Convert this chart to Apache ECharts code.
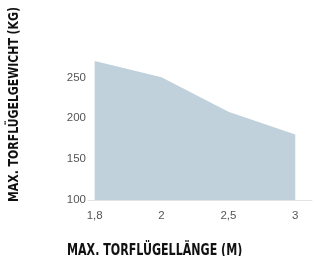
<!DOCTYPE html>
<html>
<head>
<meta charset="utf-8">
<script src="https://cdn.jsdelivr.net/npm/echarts@6/dist/echarts.min.js"></script>
<style>
	html, body { margin: 0; padding: 0; background: #fff; }
	#chart { width: 315px; height: 256px; }
</style>
</head>
<body>
<div id="chart"></div>
<script>
var laengen = ['1,8', '2', '2,5', '3']; // Torflügellänge (m)
var gewichte = [270, 250, 208, 180]; // max. Torflügelgewicht (kg)
var yTicks = [100, 150, 200, 250];

var myChart = echarts.init(document.getElementById('chart'));

// Punkte über Index, damit die Abstände gleich bleiben
var punkte = gewichte.map(function(v, i) {
	return [i, v];
});

var titelFont = '"DejaVu Sans Condensed", "Liberation Sans Narrow", sans-serif';

var option = {
	animation: false,
	grid: {
		left: 88,
		right: 0,
		top: 61,
		bottom: 56
	},
	xAxis: {
		type: 'value',
		min: -0.1,
		max: 3.25,
		interval: 0.05,
		splitLine: { show: false },
		axisTick: { show: false },
		axisLine: {
			show: true,
			lineStyle: { color: '#e3e3e3', width: 1 }
		},
		axisLabel: {
			color: '#555',
			fontSize: 11.5,
			fontFamily: 'Liberation Sans, Arial, sans-serif',
			margin: 10,
			hideOverlap: false,
			formatter: function(v) {
				var i = Math.round(v);
				if (Math.abs(v - i) > 1e-6) return '';
				return laengen[i] !== undefined ? laengen[i] : '';
			}
		}
	},
	yAxis: {
		type: 'value',
		min: yTicks[0],
		max: 270,
		interval: 50,
		splitLine: { show: false },
		axisTick: { show: false },
		axisLine: { show: false },
		axisLabel: {
			color: '#555',
			fontSize: 11.5,
			fontFamily: 'Liberation Sans, Arial, sans-serif',
			margin: 2,
			formatter: function(v) {
				return yTicks.indexOf(v) >= 0 ? String(v) : '';
			}
		}
	},
	graphic: [{
		type: 'text',
		x: 7,
		y: 202,
		rotation: Math.PI / 2,
		scaleX: 0.865,
		style: {
			text: 'MAX. TORFLÜGELGEWICHT (KG)',
			fill: '#111',
			font: 'bold 14px ' + titelFont,
			align: 'left',
			verticalAlign: 'top'
		}
	}, {
		type: 'text',
		x: 67,
		y: 243,
		scaleX: 0.77,
		style: {
			text: 'MAX. TORFLÜGELLÄNGE (M)',
			fill: '#111',
			font: 'bold 16px ' + titelFont
		}
	}],
	series: [{
		type: 'line',
		data: punkte,
		symbol: 'none',
		lineStyle: { width: 0 },
		areaStyle: { color: '#c0d1dc', opacity: 1 }
	}]
};

myChart.setOption(option, true);
window.onresize = function() {
	myChart.resize();
};
</script>
</body>
</html>
